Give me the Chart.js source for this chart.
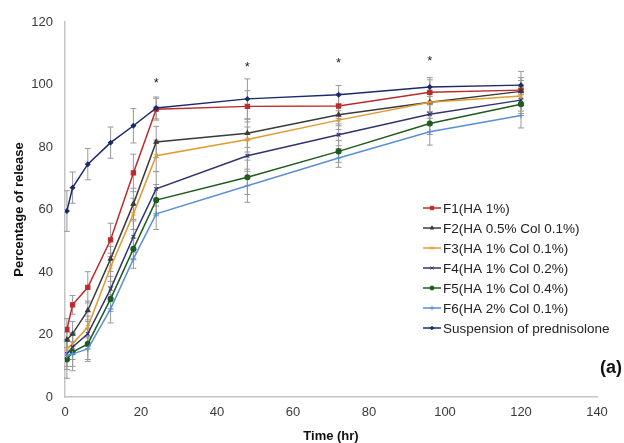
<!DOCTYPE html>
<html>
<head>
<meta charset="utf-8">
<script src="https://cdn.jsdelivr.net/npm/chart.js@4/dist/chart.umd.min.js"></script>
<style>
  html, body { margin: 0; padding: 0; background: #fff; overflow: hidden; }
  #wrap { width: 624px; height: 443px; }
</style>
</head>
<body>
<div id="wrap"><canvas id="release-chart" width="624" height="443"></canvas></div>
<script>
// release profile (a) — % released vs time, mean ± SD

const TIMES = [0.5, 2, 6, 12, 18, 24, 48, 72, 96, 120];

const F1   = [21.6, 29.5, 35.1, 50.3, 71.7, 92.1, 93.0, 93.1, 97.5, 98.2];
const F2   = [18.3, 20.2, 27.7, 44.2, 61.8, 81.6, 84.4, 90.3, 94.3, 97.8];
const F3   = [15.4, 17.0, 22.4, 41.5, 58.6, 77.2, 82.4, 88.6, 94.3, 96.3];
const F4   = [13.8, 16.0, 20.2, 34.6, 51.3, 66.6, 77.2, 83.9, 90.5, 95.0];
const F5   = [12.0, 14.4, 17.0, 31.4, 47.4, 63.0, 70.3, 78.6, 87.5, 93.7];
const F6   = [13.3, 13.8, 15.4, 28.2, 44.2, 58.6, 67.6, 76.5, 84.9, 90.1];
const SUSP = [59.5, 67.0, 74.5, 81.4, 86.8, 92.5, 95.4, 96.7, 99.2, 99.8];

// standard deviations (error bars)
const ERR_F1   = [3.5, 3.0, 5.0, 5.3, 6.0, 3.5, 5.0, 4.0, 4.0, 4.0];
const ERR_F2   = [2.5, 4.0, 3.0, 4.0, 5.0, 5.0, 4.5, 3.5, 3.0, 3.5];
const ERR_F3   = [3.0, 3.5, 3.5, 4.5, 5.0, 5.0, 4.0, 3.0, 3.0, 3.0];
const ERR_F4   = [4.0, 4.0, 4.0, 4.0, 5.0, 5.5, 5.0, 3.5, 3.5, 3.5];
const ERR_F5   = [6.0, 6.0, 5.0, 4.0, 3.5, 5.0, 5.5, 3.5, 3.5, 3.0];
const ERR_F6   = [4.5, 4.0, 4.0, 4.5, 3.0, 5.0, 5.3, 3.0, 4.3, 4.0];
const ERR_SUSP = [6.5, 5.0, 5.0, 5.0, 5.5, 3.5, 6.4, 3.0, 3.0, 4.4];

const SERIES_LABELS = [
  'F1(HA 1%)',
  'F2(HA 0.5% Col 0.1%)',
  'F3(HA 1% Col 0.1%)',
  'F4(HA 1% Col 0.2%)',
  'F5(HA 1% Col 0.4%)',
  'F6(HA 2% Col 0.1%)',
  'Suspension of prednisolone',
];

// significance markers (*)
const STAR_X = [24, 48, 72, 96];
const STAR_Y = [101.5, 106.7, 107.8, 108.6];

const X_TICKS = [0, 20, 40, 60, 80, 100, 120, 140];
const Y_TICKS = [0, 20, 40, 60, 80, 100, 120];

const FONT = '"Liberation Sans", Arial, sans-serif';

const styles = [
  { color: '#be2a2c', point: 'rect',     r: 3.0 },
  { color: '#3b3b3b', point: 'triangle', r: 2.6 },
  { color: '#e39a2f', point: 'crossRot', r: 2.6 },
  { color: '#33336d', point: 'crossRot', r: 2.6 },
  { color: '#1e5b1e', point: 'circle',   r: 2.5 },
  { color: '#5b8fd4', point: 'cross',    r: 2.8 },
  { color: '#1c2a6b', point: 'rectRot',  r: 2.2 },
];

const values = [F1, F2, F3, F4, F5, F6, SUSP];
const errors = [ERR_F1, ERR_F2, ERR_F3, ERR_F4, ERR_F5, ERR_F6, ERR_SUSP];

const datasets = values.map((vals, i) => ({
  label: SERIES_LABELS[i],
  data: vals.map((v, k) => ({ x: TIMES[k], y: v })),
  err: errors[i],
  borderColor: styles[i].color,
  backgroundColor: styles[i].color,
  borderWidth: 1.5,
  pointStyle: styles[i].point,
  pointRadius: styles[i].r,
  pointBorderWidth: 1.1,
  tension: 0,
  order: 6 - i,
}));

// ── error bars ───────────────────────────────────────────────
const errorBars = {
  id: 'errorBars',
  beforeDatasetsDraw(chart) {
    const { ctx, scales: { x, y } } = chart;
    ctx.save();
    ctx.strokeStyle = '#999';
    ctx.lineWidth = 1;
    chart.data.datasets.forEach(ds => {
      ds.data.forEach((p, k) => {
        const e = ds.err[k];
        const px = x.getPixelForValue(p.x);
        const top = y.getPixelForValue(p.y + e);
        const bot = y.getPixelForValue(p.y - e);
        ctx.beginPath();
        ctx.moveTo(px, top); ctx.lineTo(px, bot);
        ctx.moveTo(px - 3, top); ctx.lineTo(px + 3, top);
        ctx.moveTo(px - 3, bot); ctx.lineTo(px + 3, bot);
        ctx.stroke();
      });
    });
    ctx.restore();
  }
};

// ── asterisks, panel tag and legend ──────────────────────────
const annotations = {
  id: 'annotations',
  afterDraw(chart) {
    const { ctx, scales: { x, y } } = chart;
    ctx.save();
    ctx.fillStyle = '#222';
    ctx.font = '13px ' + FONT;
    ctx.textAlign = 'center';
    ctx.textBaseline = 'alphabetic';
    STAR_X.forEach((sx, i) => {
      ctx.fillText('*', x.getPixelForValue(sx), y.getPixelForValue(STAR_Y[i]) + 7);
    });

    ctx.font = 'bold 18px ' + FONT;
    ctx.textAlign = 'right';
    ctx.textBaseline = 'middle';
    ctx.fillStyle = '#111';
    ctx.fillText('(a)', 622, 368);

    // legend
    const lx = 423, ly = 208, gap = 20;
    chart.data.datasets.forEach((ds, i) => {
      const cy = ly + i * gap;
      ctx.strokeStyle = ds.borderColor;
      ctx.fillStyle = ds.backgroundColor;
      ctx.lineWidth = 1.5;
      ctx.beginPath();
      ctx.moveTo(lx, cy); ctx.lineTo(lx + 18, cy);
      ctx.stroke();
      if (Chart.helpers && Chart.helpers.drawPoint) {
        ctx.lineWidth = 1;
        Chart.helpers.drawPoint(ctx, { pointStyle: ds.pointStyle, radius: ds.pointRadius * 0.8, rotation: 0, borderWidth: 1 }, lx + 9, cy);
      }
      ctx.fillStyle = '#222';
      ctx.font = '13.5px ' + FONT;
      ctx.textAlign = 'left';
      ctx.textBaseline = 'middle';
      ctx.fillText(ds.label, lx + 20, cy + 1);
    });
    ctx.restore();
  }
};

new Chart(document.getElementById('release-chart'), {
  type: 'line',
  data: { datasets },
  plugins: [errorBars, annotations],
  options: {
    responsive: false,
    animation: false,
    devicePixelRatio: 1,
    layout: { padding: { top: 22, right: 27, left: 0, bottom: 0 } },
    plugins: {
      legend: { display: false },
      tooltip: { enabled: false },
    },
    scales: {
      x: {
        type: 'linear',
        min: 0, max: 140,
        afterBuildTicks: s => { s.ticks = X_TICKS.map(v => ({ value: v })); },
        afterFit: s => { s.height = 46; },
        grid: { display: false, drawTicks: false },
        border: { display: true, color: '#c4c4c4', width: 1.5 },
        ticks: { padding: 8, color: '#3a3a3a', font: { family: FONT, size: 13 } },
        title: {
          display: true, text: 'Time (hr)', color: '#111',
          font: { family: FONT, size: 13, weight: 'bold', lineHeight: 1 },
          padding: { top: 0, bottom: 0 },
        },
      },
      y: {
        min: 0, max: 120,
        afterBuildTicks: s => { s.ticks = Y_TICKS.map(v => ({ value: v })); },
        afterFit: s => { s.width = 65; },
        grid: { display: false, drawTicks: false },
        border: { display: true, color: '#c4c4c4', width: 1.5 },
        ticks: { padding: 12, color: '#3a3a3a', font: { family: FONT, size: 13 } },
        title: {
          display: true, text: 'Percentage of release', color: '#111',
          font: { family: FONT, size: 13, weight: 'bold', lineHeight: 1 },
          padding: { top: 13, bottom: 0 },
        },
      },
    },
  },
});
</script>
</body>
</html>
